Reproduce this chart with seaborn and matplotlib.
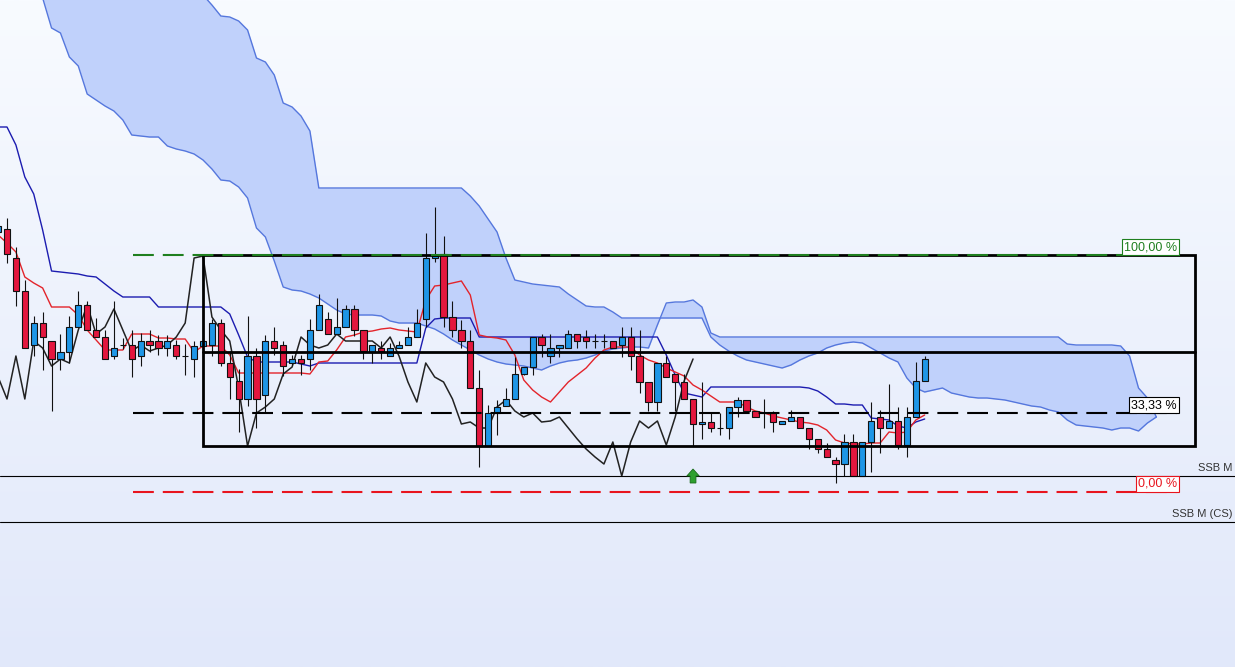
import numpy as np
import pandas as pd
import matplotlib
matplotlib.use("Agg")
import matplotlib.pyplot as plt
import seaborn as sns
from matplotlib.colors import LinearSegmentedColormap
from matplotlib.patches import Rectangle

# ---- candle data (one value per bar) ----
opens = [435, 438, 409, 376, 322, 344, 326, 308, 315, 340,
         362, 337, 330, 311, 322, 322, 311, 326, 326, 319,
         322, 311, 308, 321, 322, 344, 304, 286, 268, 311,
         272, 326, 322, 304, 308, 308, 337, 348, 333, 340,
         358, 337, 315, 319, 311, 319, 322, 330, 348, 409,
         413, 350, 337, 326, 279, 221, 254, 261, 268, 293,
         300, 330, 311, 319, 319, 333, 330, 326, 326, 326,
         322, 330, 311, 285, 265, 304, 293, 285, 268, 243,
         245, 239, 239, 260, 267, 256, 254, 254, 243, 246,
         250, 239, 228, 218, 207, 203, 225, 191, 225, 250,
         239, 246, 222, 250, 286]
closes = [441, 413, 376, 319, 344, 330, 308, 315, 340, 362,
          337, 330, 308, 319, 322, 308, 326, 322, 319, 326,
          311, 311, 321, 326, 344, 304, 290, 268, 311, 268,
          326, 319, 301, 308, 304, 337, 362, 333, 340, 358,
          337, 316, 322, 316, 319, 322, 330, 344, 409, 411,
          350, 337, 326, 279, 221, 254, 260, 268, 293, 300,
          330, 322, 319, 322, 333, 326, 326, 326, 326, 319,
          330, 311, 285, 265, 304, 290, 285, 268, 243, 245,
          239, 239, 260, 267, 256, 250, 254, 245, 246, 250,
          239, 228, 218, 210, 203, 225, 191, 225, 246, 239,
          246, 222, 250, 286, 308]
highs = [448, 449, 420, 387, 351, 355, 326, 333, 351, 376,
         366, 349, 337, 366, 329, 337, 334, 337, 332, 332,
         327, 323, 326, 329, 348, 348, 316, 298, 351, 319,
         332, 340, 326, 312, 312, 348, 373, 355, 369, 362,
         362, 337, 322, 326, 324, 326, 340, 358, 434, 460,
         431, 366, 347, 337, 297, 262, 267, 279, 310, 300,
         330, 333, 333, 322, 337, 333, 337, 333, 333, 326,
         340, 340, 337, 285, 304, 311, 293, 293, 268, 285,
         254, 254, 260, 270, 267, 256, 268, 256, 246, 257,
         250, 239, 228, 224, 210, 233, 233, 225, 265, 257,
         283, 260, 260, 305, 311]
lows = [431, 404, 361, 319, 311, 297, 256, 297, 304, 340,
        337, 330, 308, 308, 318, 290, 301, 315, 312, 311,
        308, 292, 290, 321, 311, 301, 268, 235, 261, 239,
        254, 312, 291, 302, 292, 297, 337, 333, 333, 340,
        331, 308, 304, 308, 311, 319, 322, 330, 340, 405,
        340, 330, 319, 279, 200, 221, 232, 261, 268, 292,
        292, 310, 304, 310, 319, 319, 319, 319, 319, 319,
        310, 297, 274, 256, 256, 290, 256, 268, 221, 228,
        235, 232, 228, 250, 256, 250, 239, 235, 243, 246,
        239, 218, 214, 210, 184, 191, 191, 191, 195, 214,
        239, 218, 210, 250, 286]

# conversion line (red) and base line (dark blue)
tenkan = [432, 424, 415, 390, 384, 379, 360, 360, 360, 352,
          337, 327, 317, 317, 317, 333, 333, 333, 329, 329,
          328, 328, 315, 321, 321, 321, 312, 294, 294, 294,
          294, 294, 294, 294, 294, 293, 305, 306, 317, 330,
          332, 335, 336, 338, 339, 337, 336, 335, 367, 381,
          382, 384, 386, 372, 332, 330, 329, 327, 312, 287,
          277, 270, 265, 275, 285, 292, 299, 309, 317, 320,
          320, 320, 312, 307, 304, 299, 295, 291, 282, 277,
          271, 265, 265, 265, 260, 256, 254, 251, 249, 247,
          245, 244, 242, 237, 227, 224, 223, 223, 224, 224,
          235, 234, 235, 247, 252]
kijun = [540, 540, 522, 490, 473, 437, 396, 395, 394, 393,
         391, 390, 383, 376, 370, 370, 370, 370, 360, 360,
         360, 360, 360, 360, 360, 360, 353, 332, 310, 305,
         305, 305, 305, 305, 303, 301, 304, 304, 304, 304,
         304, 304, 304, 304, 304, 304, 304, 304, 339, 348,
         349, 349, 349, 349, 330, 330, 330, 330, 330, 330,
         330, 330, 330, 330, 330, 330, 330, 330, 330, 330,
         330, 330, 330, 330, 330, 312, 292, 274, 272, 270,
         280, 280, 280, 280, 280, 280, 280, 280, 280, 280,
         280, 279, 276, 270, 263, 263, 262, 262, 249, 248,
         247, 241, 239, 245, 248]

# cloud spans, starting at bar 4 (values above 667 are off the top)
span_start = 4
span_l = [700, 669, 639, 634, 610, 601,
          573, 567, 561, 556, 547, 532, 531, 530, 530, 521,
          518, 516, 513, 507, 498, 487, 486, 480, 469, 439,
          430, 406, 380, 377, 376, 373, 369, 363, 357, 353,
          352, 352, 352, 351, 346, 344, 344, 344, 341, 338,
          333, 327, 322, 317, 312, 308, 305, 303, 302, 301,
          299, 297, 301, 304, 306, 307, 309, 312, 316, 318,
          319, 320, 320, 319, 342, 364, 365, 365, 367, 360,
          334, 330, 330, 330, 330, 330, 330, 330, 330, 330,
          330, 330, 330, 330, 330, 330, 330, 330, 330, 330,
          330, 330, 330, 330, 330, 330, 330, 330, 330, 330,
          330, 330, 330, 330, 330, 330, 330, 330, 330, 330,
          323, 322, 322, 322, 322, 322, 321, 311, 279, 269,
          250]
span_u = [700, 700, 700, 700, 700, 700,
          700, 700, 700, 700, 700, 700, 700, 700, 700, 700,
          700, 700, 700, 672, 662, 651, 650, 646, 637, 609,
          605, 592, 564, 560, 551, 536, 479, 479, 479, 479,
          479, 479, 479, 479, 479, 479, 479, 479, 479, 479,
          479, 479, 479, 471, 461, 448, 435, 409, 387, 385,
          383, 382, 381, 380, 373, 367, 361, 360, 360, 355,
          349, 349, 349, 349, 349, 349, 349, 349, 349, 349,
          330, 322, 316, 311, 307, 305, 303, 301, 299, 302,
          307, 311, 314, 319, 322, 324, 325, 324, 319, 314,
          309, 305, 289, 279, 275, 277, 279, 274, 272, 270,
          269, 269, 268, 267, 265, 263, 261, 260, 257, 255,
          247, 242, 241, 240, 239, 237, 239, 239, 236, 244,
          250]

# retracement range and extra levels
fib_high = 412
fib_low = 175
fib_ratios = [1.0, 1 / 3, 0.0]
fib_labels = ["100,00 %", "33,33 %", "0,00 %"]
box_bottom = 221
box_mid = 315
ssb_levels = [191, 145]
ssb_labels = ["SSB M", "SSB M (CS)"]
signal_bar = 78

df = pd.DataFrame({"open": opens, "high": highs, "low": lows, "close": closes,
                   "tenkan": tenkan, "kijun": kijun})
df["bar"] = np.arange(len(df))
df["chikou"] = df["close"].shift(-26)

cloud = pd.DataFrame({"span_l": span_l, "span_u": span_u})
cloud["bar"] = np.arange(span_start, span_start + len(cloud))

sns.set_theme(style="white")
plt.rcParams["font.family"] = ["Liberation Sans", "DejaVu Sans"]

fig = plt.figure(figsize=(12.35, 6.67), dpi=100)
ax = fig.add_axes([0, 0, 1, 1])
x0, x1 = 0.214, 138.83
ax.axis("off")

# background gradient
bg = LinearSegmentedColormap.from_list("bg", ["#f8fbff", "#e1e8fa"])
ax.imshow(np.linspace(0, 1, 256).reshape(-1, 1), extent=[x0, x1, 0, 667],
          aspect="auto", cmap=bg, origin="upper", zorder=0)

# cloud
ax.fill_between(cloud["bar"], cloud["span_l"], cloud["span_u"], color="#c0d1fb", lw=0, zorder=1)
sns.lineplot(data=cloud, x="bar", y="span_l", color="#5577dd", lw=1, ax=ax, zorder=2)
sns.lineplot(data=cloud, x="bar", y="span_u", color="#5577dd", lw=1, ax=ax, zorder=2)

# indicator lines
sns.lineplot(data=df, x="bar", y="kijun", color="#1c1cb0", lw=1, ax=ax, zorder=3)
sns.lineplot(data=df, x="bar", y="tenkan", color="#e3242b", lw=1, ax=ax, zorder=3)
chk = df.dropna(subset=["chikou"])
sns.lineplot(data=chk, x="bar", y="chikou", color="#222222", lw=1.1, ax=ax, zorder=3)

# candles
colors = np.where(df["close"] >= df["open"], "#1e96e6", "#e3173e")
ax.vlines(df["bar"], df["low"], df["high"], color="#111111", lw=0.8, zorder=4)
ax.bar(df["bar"], df["close"] - df["open"], bottom=df["open"], width=0.7,
       color=colors, edgecolor="#111111", lw=0.8, zorder=5)

# range box
box_left, box_right = 23, 134.3
ax.add_patch(Rectangle((box_left, box_bottom), box_right - box_left, fib_high - box_bottom,
                       fill=False, ec="black", lw=2, zorder=6))
ax.plot([box_left, box_right], [box_mid, box_mid], color="black", lw=2, zorder=6)

# retracement levels
lvl_colors = ["#1f7f1f", "black", "#e8141e"]
lv_start, lv_end = 15.14, 132.3
for r, lab, c in zip(fib_ratios, fib_labels, lvl_colors):
    lvl = fib_low + r * (fib_high - fib_low)
    ax.plot([lv_start, lv_end], [lvl, lvl], color=c, lw=1.5, ls=(0, (10, 4.3)), zorder=7)
    ax.text(lv_end, lvl + 2, lab, ha="right", va="bottom", fontsize=9, color=c, zorder=8,
            bbox=dict(boxstyle="square,pad=0.15", fc="white", ec=c, lw=0.8))

# SSB levels
for lvl, lab in zip(ssb_levels, ssb_labels):
    ax.axhline(lvl, color="black", lw=0.8, zorder=6)
    ax.text(138.5, lvl + 3, lab, ha="right", va="bottom", fontsize=8, color="#333333", zorder=8)

# signal arrow
ax.arrow(signal_bar, 184, 0, 14, width=0.65, head_width=1.4, head_length=7,
         length_includes_head=True, fc="#2ea02e", ec="#1a6b1a", lw=0.6, zorder=8)

ax.set_xlim(x0, x1)
ax.set_ylim(0, 667)
fig.savefig("out.png", dpi=100)
